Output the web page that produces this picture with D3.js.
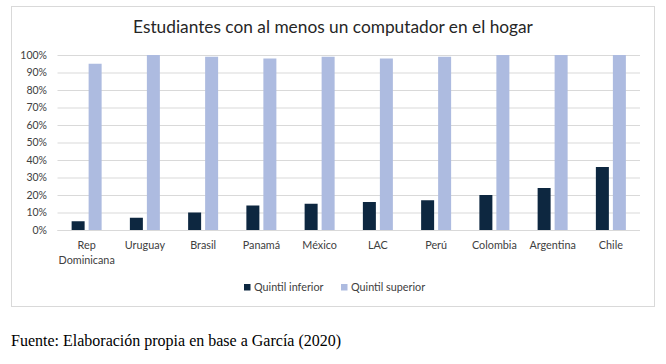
<!DOCTYPE html>
<html>
<head>
<meta charset="utf-8">
<script src="https://cdn.jsdelivr.net/npm/d3@7"></script>
<style>
  html, body { margin: 0; padding: 0; background: #fff; }
  svg { display: block; }
</style>
</head>
<body>
<svg id="chart" width="666" height="364"></svg>
<script>
const categories = ["Rep Dominicana", "Uruguay", "Brasil", "Panamá", "México", "LAC", "Perú", "Colombia", "Argentina", "Chile"];
const quintilInferior = [5, 7, 10, 14, 15, 16, 17, 20, 24, 36];
const quintilSuperior = [95, 100, 99, 98, 99, 98, 99, 100, 100, 100];
const seriesNames = ["Quintil inferior", "Quintil superior"];
const yTicks = [0, 10, 20, 30, 40, 50, 60, 70, 80, 90, 100];
const title = "Estudiantes con al menos un computador en el hogar";
const source = "Fuente: Elaboración propia en base a García (2020)";

const colors = ["#0d2740", "#adbbe0"];
const font = "Lato, 'Open Sans', sans-serif";

const svg = d3.select("#chart");

// chart frame
svg.append("rect")
  .attr("x", 11.5).attr("y", 6.5)
  .attr("width", 643).attr("height", 300)
  .attr("fill", "#fff").attr("stroke", "#d9d9d9").attr("stroke-width", 1);

svg.append("text")
  .attr("x", 333).attr("y", 33)
  .attr("text-anchor", "middle")
  .attr("font-family", font).attr("font-size", 17.3)
  .attr("fill", "#262626")
  .text(title);

const x0 = d3.scaleBand().domain(categories).range([57.5, 640]).paddingInner(0).paddingOuter(0);
const y = d3.scaleLinear().domain([0, 100]).range([230, 55]);

// gridlines
const gridG = svg.append("g")
  .attr("transform", "translate(57.5,0)")
  .call(d3.axisLeft(y).tickValues(yTicks).tickSize(-(640 - 57.5)).tickFormat(""));
gridG.select(".domain").remove();
gridG.selectAll(".tick line").attr("stroke", "#d9d9d9").attr("stroke-width", 1);

// y labels
const yAx = svg.append("g")
  .attr("transform", "translate(47,0)")
  .call(d3.axisLeft(y).tickValues(yTicks).tickSize(0).tickPadding(0).tickFormat(d => d + "%"));
yAx.select(".domain").remove();
yAx.selectAll("text").attr("font-family", font).attr("font-size", 10.5).attr("fill", "#404040");

const barW = 13, gap = 4;
const data = categories.map((c, i) => ({ c, vals: [quintilInferior[i], quintilSuperior[i]] }));

const groups = svg.append("g").selectAll("g").data(data).join("g")
  .attr("transform", d => `translate(${x0(d.c) + x0.bandwidth() / 2},0)`);

groups.selectAll("rect").data(d => d.vals).join("rect")
  .attr("x", (v, j) => j === 0 ? -(barW + gap / 2) : gap / 2)
  .attr("width", barW)
  .attr("y", v => y(v))
  .attr("height", v => y(0) - y(v))
  .attr("fill", (v, j) => colors[j]);

// baseline
svg.append("line")
  .attr("x1", 57.5).attr("x2", 640)
  .attr("y1", y(0) + 0.5).attr("y2", y(0) + 0.5)
  .attr("stroke", "#d9d9d9");

// x labels
const xAx = svg.append("g").attr("transform", `translate(0,${y(0)})`)
  .call(d3.axisBottom(x0).tickSize(0).tickPadding(0));
xAx.select(".domain").remove();
xAx.selectAll("text").remove();
xAx.selectAll(".tick").each(function(d) {
  const words = d === "Rep Dominicana" ? ["Rep", "Dominicana"] : [d];
  const t = d3.select(this).append("text")
    .attr("text-anchor", "middle")
    .attr("font-family", font).attr("font-size", 10.8)
    .attr("fill", "#404040");
  words.forEach((w, k) => t.append("tspan").attr("x", 0).attr("y", 19 + k * 15).text(w));
});

// legend
const legend = svg.append("g");
const legX = [244, 341];
seriesNames.forEach((n, i) => {
  legend.append("rect").attr("x", legX[i]).attr("y", 284).attr("width", 6.5).attr("height", 6.5).attr("fill", colors[i]);
  legend.append("text").attr("x", legX[i] + 10).attr("y", 290.5)
    .attr("font-family", font).attr("font-size", 10.8).attr("fill", "#404040").text(n);
});

// source
svg.append("text")
  .attr("x", 11).attr("y", 346)
  .attr("font-family", "'Liberation Serif', 'Times New Roman', serif")
  .attr("font-size", 16).attr("fill", "#000")
  .text(source);
</script>
</body>
</html>
